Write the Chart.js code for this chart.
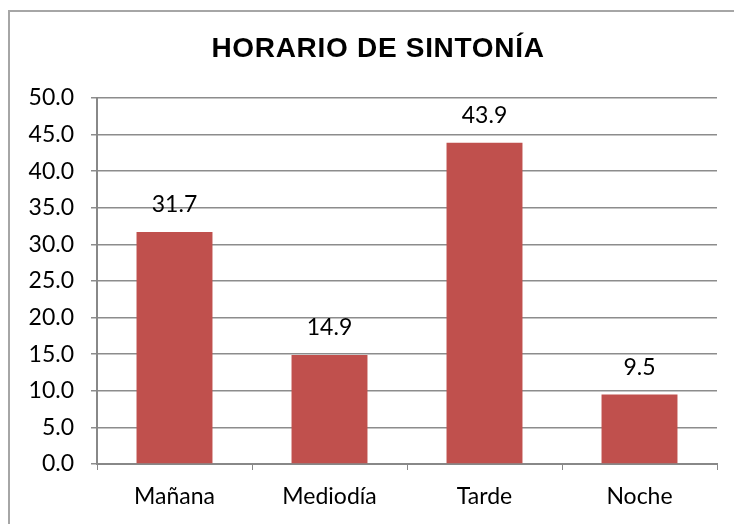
<!DOCTYPE html>
<html>
<head>
<meta charset="utf-8">
<script src="https://cdn.jsdelivr.net/npm/chart.js@4.4.0/dist/chart.umd.min.js"></script>
<style>
  html, body { margin: 0; padding: 0; background: #fff; }
  #wrap { position: relative; width: 734px; height: 524px; overflow: hidden; }
  #frame { position: absolute; left: 8px; top: 10px; width: 900px; height: 700px;
           border-top: 2px solid #a6a6a6; border-left: 2px solid #a6a6a6; }
  canvas { position: absolute; left: 0; top: 0; }
</style>
</head>
<body>
<div id="wrap">
  <div id="frame"></div>
  <canvas id="grafico" width="734" height="524"></canvas>
</div>
<script>
//Datos del gráfico
const categorias = ['Mañana', 'Mediodía', 'Tarde', 'Noche']
const valores = [31.7, 14.9, 43.9, 9.5]
const titulo = 'HORARIO DE SINTONÍA'

const fuenteEjes = "Lato, 'Noto Sans', sans-serif"

//Título y etiquetas sobre las barras
const etiquetas = {
    id: 'etiquetas',
    afterDraw(chart) {
        const ctx = chart.ctx
        ctx.save()
        ctx.fillStyle = '#000'
        ctx.textAlign = 'center'
        ctx.textBaseline = 'middle'
        ctx.font = "bold 28px 'Liberation Sans', Arial, sans-serif"
        ctx.letterSpacing = '0.7px'
        ctx.fillText(titulo, 378, 49)
        ctx.letterSpacing = '0px'

        ctx.font = "23px " + fuenteEjes
        const meta = chart.getDatasetMeta(0)
        meta.data.forEach((bar, i) => {
            ctx.fillText(valores[i].toFixed(1), bar.x, bar.y - 27)
        })
        ctx.restore()
    }
}

const canvasNode = document.getElementById('grafico')

const config = {
    type: 'bar',
    data: {
        labels: categorias,
        datasets: [{
            data: valores,
            backgroundColor: '#C0504D',
            borderWidth: 0,
            barPercentage: 0.49,
            categoryPercentage: 1
        }]
    },
    options: {
        responsive: false,
        animation: false,
        layout: { padding: { left: 0, right: 17, top: 98, bottom: 0 } },
        plugins: {
            legend: { display: false },
            tooltip: { enabled: false },
            title: { display: false }
        },
        scales: {
            x: {
                grid: { display: true, drawOnChartArea: false, color: '#888', tickLength: 6, offset: true },
                border: { color: '#888', width: 2 },
                ticks: { color: '#000', font: { family: fuenteEjes, size: 23 }, padding: 13 },
                afterFit(scale) { scale.height = 60 }
            },
            y: {
                min: 0,
                max: 50,
                ticks: {
                    stepSize: 5,
                    color: '#000',
                    font: { family: fuenteEjes, size: 23 },
                    padding: 17,
                    callback: v => v.toFixed(1)
                },
                grid: { color: '#8c8c8c', lineWidth: 1.5, tickLength: 6 },
                border: { color: '#888', width: 2 },
                afterFit(scale) { scale.width = 97 }
            }
        }
    },
    plugins: [etiquetas]
}

const graph = new Chart(canvasNode, config)
</script>
</body>
</html>
